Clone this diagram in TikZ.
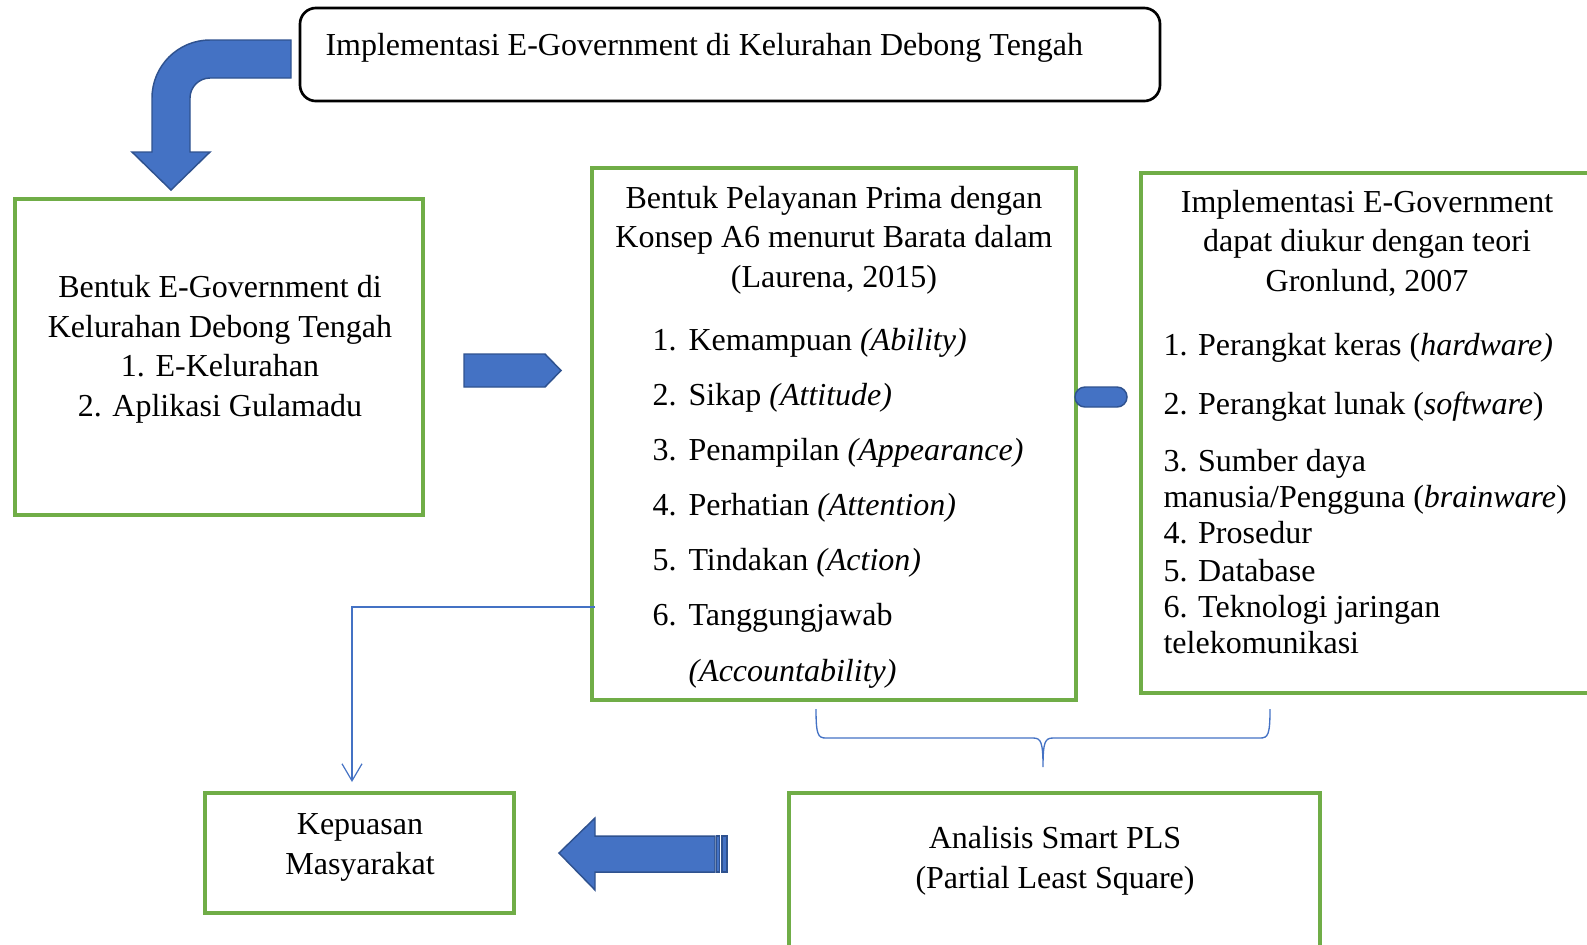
\documentclass[tikz,border=0pt]{standalone}
\usepackage{fontspec}
\setmainfont{Liberation Serif}
\usetikzlibrary{arrows.meta}
\definecolor{boxgreen}{HTML}{70AD47}
\definecolor{arrowblue}{HTML}{4472C4}
\definecolor{arrowedge}{HTML}{2F528F}

\begin{document}
\begin{tikzpicture}[x=0.375pt,y=-0.375pt,
  greenbox/.style={draw=boxgreen, line width=1.3pt, inner sep=0pt},
  txt/.style={inner sep=0pt, font=\fontsize{12}{14.8}\selectfont, align=center, anchor=base},
  item/.style={inner sep=0pt, font=\fontsize{12}{14.8}\selectfont, anchor=base west},
  blockarrow/.style={fill=arrowblue, draw=arrowedge, line width=0.55pt},
  link/.style={draw=arrowblue, line width=0.45pt, -{Straight Barb[length=6.4pt,width=7.5pt]}}]
  \useasboundingbox (0,0) rectangle (1587,944);
  \clip (0,0) rectangle (1587,944);

  \node[draw, rounded corners=6pt, line width=1pt, minimum width=322.5pt, minimum height=34.9pt] (top) at (730,54.5) {};
  \node[greenbox, minimum width=153pt, minimum height=118.5pt] (left) at (219,357) {};
  \node[greenbox, minimum width=181.5pt, minimum height=199.5pt] (mid) at (834,434) {};
  \node[greenbox, minimum width=172.1pt, minimum height=195pt] (right) at (1370.5,433) {};
  \node[greenbox, minimum width=115.9pt, minimum height=45pt] (kep) at (359.5,853) {};
  \node[greenbox, minimum width=199.1pt, minimum height=62.6pt] (ana) at (1054.5,876.5) {};

  \node[item] (toptext) at (325,55) {Implementasi E-Government di Kelurahan Debong Tengah};
  \node[txt] (lefttext) at (220,416) {Bentuk E-Government di\\Kelurahan Debong Tengah\\1. E-Kelurahan\\2. Aplikasi Gulamadu};
  \node[txt] (midhead) at (834,287) {Bentuk Pelayanan Prima dengan\\Konsep A6 menurut Barata dalam\\(Laurena, 2015)};
  \node[txt] (righthead) at (1367,291) {Implementasi E-Government\\dapat diukur dengan teori\\Gronlund, 2007};
  \node[txt] (keptext) at (360,874) {Kepuasan\\Masyarakat};
  \node[txt] (anatext) at (1055,888) {Analisis Smart PLS\\(Partial Least Square)};

  \foreach \y/\nr/\txt [count=\i] in {350/1./{Kemampuan \textit{(Ability)}}, 405/2./{Sikap \textit{(Attitude)}},
      460/3./{Penampilan \textit{(Appearance)}}, 515/4./{Perhatian \textit{(Attention)}},
      570/5./{Tindakan \textit{(Action)}}, 625/6./{Tanggungjawab}}{
    \node[item] (mnum\i) at (652,\y) {\nr};
    \node[item] (mitem\i) at (688,\y) {\txt};
  }
  \node[item] (mitem7) at (688,681) {\textit{(Accountability)}};

  \foreach \y/\txt [count=\i] in {355/{1. Perangkat keras (\textit{hardware)}}, 414/{2. Perangkat lunak (\textit{software})},
      471/{3. Sumber daya}, 507/{manusia/Pengguna (\textit{brainware})}, 543/{4. Prosedur},
      581/{5. Database}, 617/{6. Teknologi jaringan}, 653/{telekomunikasi}}
    \node[item] (ritem\i) at (1163,\y) {\txt};

  \node[blockarrow, rounded corners=3.75pt, minimum width=19.5pt, minimum height=7.5pt, inner sep=0pt] (pill) at (1101,397) {};

  \path[blockarrow] (291,40) -- (210,40) .. controls (178,40) and (152,66) .. (152,98) -- (152,152) -- (132,152)
    -- (171,190) -- (210,152) -- (190,152) -- (190,98) .. controls (190,87) and (199,78) .. (210,78) -- (291,78) -- cycle;
  \path[blockarrow] (464,354) -- (545,354) -- (561,370.5) -- (545,387) -- (464,387) -- cycle;
  \path[blockarrow] (715,836) -- (595,836) -- (595,818) -- (559,853) -- (595,890) -- (595,872) -- (715,872) -- cycle;
  \path[blockarrow] (716.5,836) rectangle (719.5,872);
  \path[blockarrow] (722,836) rectangle (727,872);

  \draw[arrowblue, line width=0.5pt] (816,709) .. controls (816,735) and (818,738) .. (826,738) -- (1033,738)
    .. controls (1041,738) and (1043,742) .. (1043,767) .. controls (1043,742) and (1045,738) .. (1053,738)
    -- (1260,738) .. controls (1268,738) and (1270,735) .. (1270,709);

  \coordinate (tap) at (595,607);
  \coordinate (kepin) at (352,782);
  \draw[link] (tap) -| (kepin);
\end{tikzpicture}
\end{document}
